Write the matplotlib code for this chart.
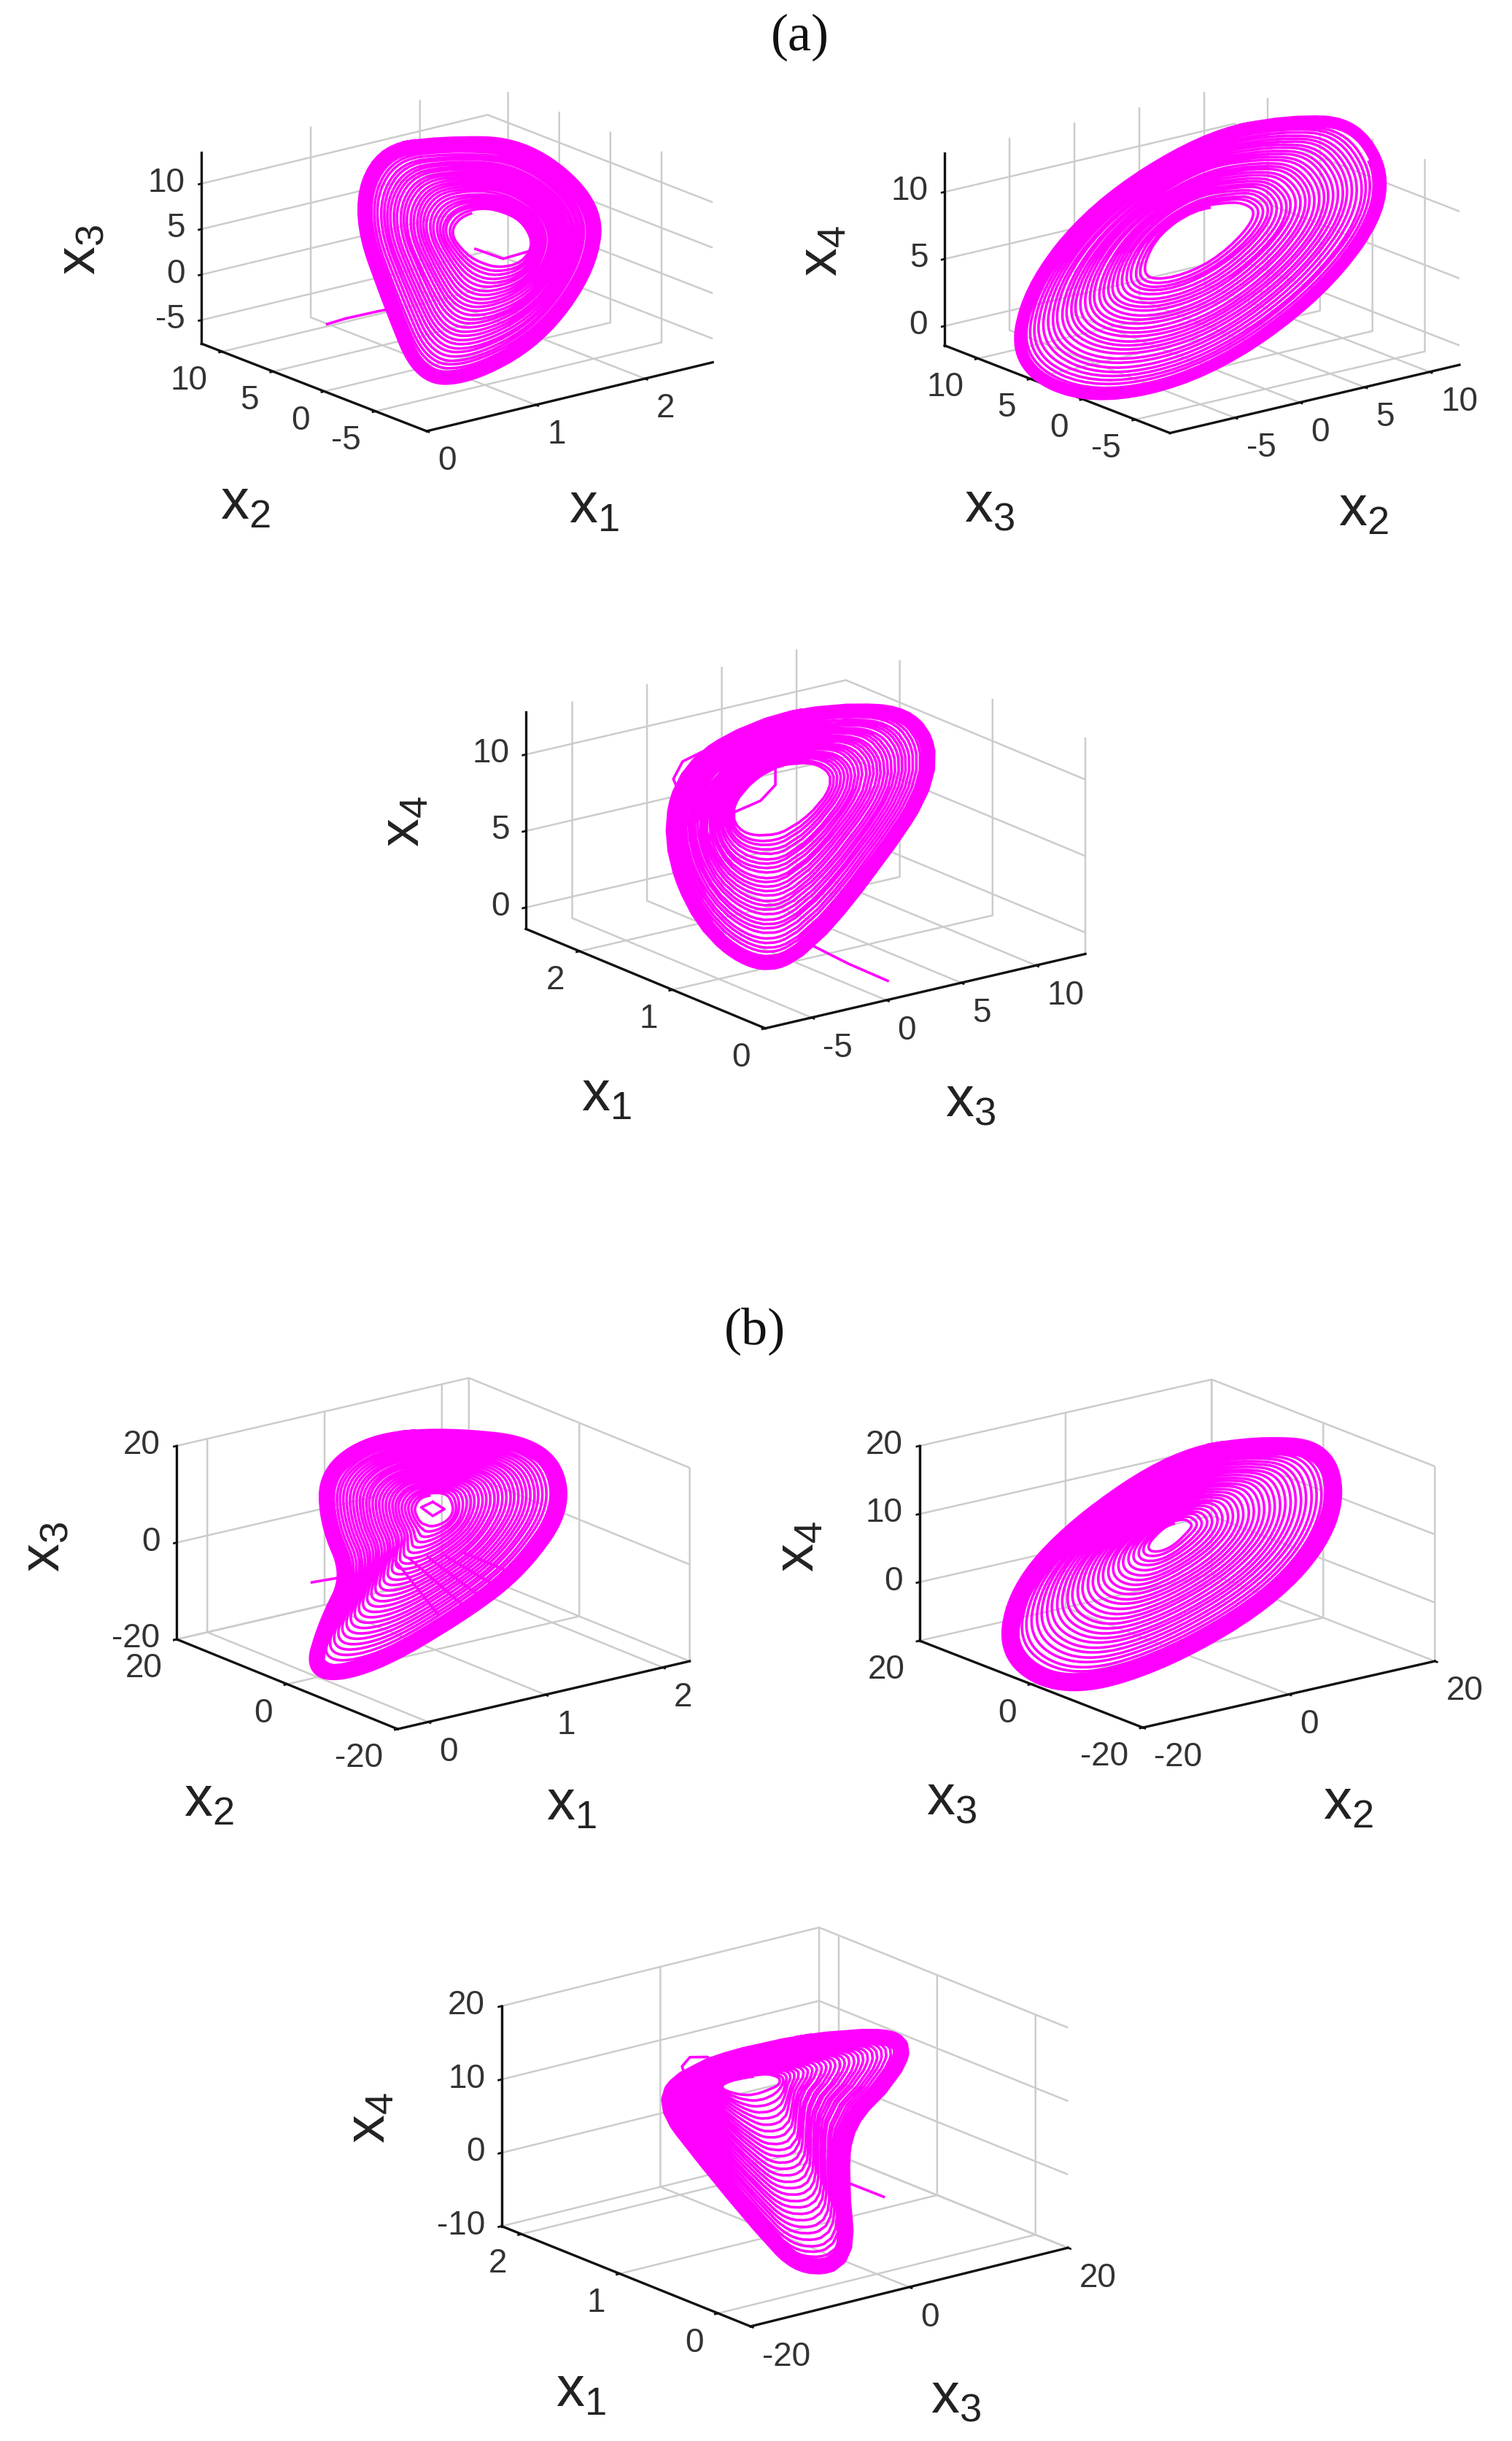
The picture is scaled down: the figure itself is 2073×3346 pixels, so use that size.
import numpy as np
import matplotlib
matplotlib.use("Agg")
import matplotlib.pyplot as plt
from matplotlib.path import Path

plt.rcParams['font.family'] = ['Liberation Sans', 'DejaVu Sans']
plt.rcParams['axes.unicode_minus'] = False
plt.rcParams['mathtext.fontset'] = 'custom'
plt.rcParams['mathtext.rm'] = 'Liberation Sans'
plt.rcParams['mathtext.default'] = 'rm'

W, H = 2073, 3346
MAGENTA = '#ff00ff'
GRID = '#cccccc'

# Spiral turns, one row per turn, inner to outer.
# Depth along the first axis cannot be read from a flat picture, so it is held fixed per panel.

# (a) x1 x2 x3
a1_x2 = [
    [-1.6,.7,1.6,0,-1.4,-3.2,-5.5,-6.6,-5.5,-3.6],
    [-1.4,1,1.9,.2,-1.2,-3.1,-5.6,-6.8,-5.8,-3.7],
    [-1.3,1.3,2.3,.5,-1,-3,-5.6,-7,-6,-3.8],
    [-1.1,1.5,2.6,.8,-.8,-2.9,-5.7,-7.2,-6.3,-3.9],
    [-1,1.8,2.9,1.1,-.5,-2.8,-5.8,-7.4,-6.6,-3.9],
    [-.9,2.1,3.2,1.3,-.3,-2.6,-5.8,-7.6,-6.8,-4],
    [-.7,2.4,3.6,1.6,-.1,-2.5,-5.9,-7.8,-7.1,-4.1],
    [-.6,2.7,3.9,1.9,.1,-2.4,-5.9,-8,-7.4,-4.1],
    [-.4,3,4.3,2.2,.3,-2.3,-6,-8.3,-7.7,-4.2],
    [-.3,3.3,4.6,2.4,.6,-2.2,-6,-8.5,-8,-4.3],
    [-.1,3.6,4.9,2.7,.8,-2.1,-6.1,-8.7,-8.2,-4.4],
    [.1,3.9,5.2,3,1,-2,-6.2,-8.9,-8.5,-4.5],
    [.2,4.1,5.6,3.2,1.2,-1.9,-6.3,-9.1,-8.7,-4.6],
    [.4,4.4,5.9,3.5,1.4,-1.8,-6.3,-9.3,-9,-4.6],
    [.5,4.7,6.3,3.8,1.6,-1.6,-6.4,-9.5,-9.3,-4.7],
    [.7,5,6.6,4,1.9,-1.5,-6.4,-9.7,-9.5,-4.8],
    [.8,5.3,6.9,4.3,2.1,-1.4,-6.5,-9.9,-9.8,-4.9],
    [1,5.6,7.3,4.6,2.3,-1.3,-6.5,-10.1,-10.1,-4.9],
    [1.1,5.9,7.6,4.9,2.5,-1.2,-6.6,-10.3,-10.4,-5],
    [1.3,6.1,8,5.1,2.7,-1.1,-6.7,-10.5,-10.6,-5.1],
    [1.4,6.4,8.3,5.4,2.9,-1,-6.8,-10.7,-10.9,-5.2],
    [1.6,6.7,8.6,5.6,3.2,-.8,-6.8,-10.9,-11.1,-5.3],
    [1.7,7,8.9,5.9,3.4,-.7,-6.9,-11.1,-11.4,-5.4],
    [1.9,7.3,9.3,6.2,3.6,-.6,-6.9,-11.3,-11.7,-5.4],
    [2,7.6,9.6,6.5,3.8,-.5,-7,-11.6,-12,-5.5],
    [2.2,7.9,9.9,6.7,4,-.4,-7,-11.7,-12.2,-5.6],
    [2.3,8.1,10.2,6.9,4.2,-.3,-7.1,-11.9,-12.4,-5.7],
    [2.5,8.5,10.6,7.3,4.5,-.2,-7.2,-12.2,-12.8,-5.8],
]
a1_x3 = [
    [9.3,7.5,5.2,3.7,3.4,3.6,5.2,7.8,9.7,10],
    [9.5,7.6,5.1,3.3,2.8,3.1,4.9,7.8,9.9,10.3],
    [9.7,7.8,5.1,3,2.3,2.6,4.6,7.8,10.1,10.6],
    [9.9,7.9,5,2.7,1.7,2.1,4.3,7.8,10.3,10.9],
    [10.1,8.1,5,2.4,1.2,1.6,4.1,7.8,10.5,11.2],
    [10.3,8.2,4.9,2,.6,1.1,3.8,7.8,10.6,11.5],
    [10.5,8.3,4.8,1.7,0,.6,3.5,7.8,10.8,11.8],
    [10.7,8.5,4.8,1.3,-.5,.1,3.2,7.8,11,12.1],
    [11,8.6,4.7,1,-1.1,-.4,3,7.8,11.2,12.5],
    [11.2,8.8,4.6,.6,-1.6,-.9,2.7,7.8,11.4,12.8],
    [11.4,8.9,4.6,.3,-2.2,-1.3,2.4,7.8,11.6,13.1],
    [11.6,9,4.5,0,-2.7,-1.8,2.1,7.8,11.8,13.4],
    [11.8,9.2,4.4,-.3,-3.3,-2.3,1.8,7.8,12,13.7],
    [12,9.3,4.4,-.6,-3.9,-2.8,1.5,7.8,12.1,14],
    [12.2,9.5,4.3,-1,-4.4,-3.3,1.3,7.8,12.3,14.3],
    [12.4,9.6,4.3,-1.3,-5,-3.8,1,7.8,12.5,14.6],
    [12.6,9.7,4.2,-1.7,-5.6,-4.3,.7,7.7,12.7,14.9],
    [12.8,9.9,4.1,-2,-6.1,-4.8,.4,7.7,12.9,15.2],
    [13,10,4.1,-2.3,-6.7,-5.3,.2,7.7,13.1,15.5],
    [13.2,10.2,4,-2.7,-7.2,-5.8,-.1,7.7,13.3,15.8],
    [13.4,10.3,3.9,-3,-7.8,-6.3,-.4,7.7,13.5,16.2],
    [13.6,10.5,3.9,-3.4,-8.3,-6.8,-.6,7.7,13.7,16.5],
    [13.8,10.6,3.8,-3.7,-8.9,-7.3,-.9,7.7,13.9,16.8],
    [14,10.8,3.8,-4,-9.5,-7.8,-1.2,7.7,14,17.1],
    [14.3,10.9,3.7,-4.4,-10,-8.2,-1.5,7.7,14.2,17.4],
    [14.4,11,3.6,-4.7,-10.5,-8.7,-1.8,7.7,14.4,17.7],
    [14.6,11.1,3.6,-5,-11,-9.1,-2,7.7,14.6,17.9],
    [14.9,11.3,3.5,-5.4,-11.8,-9.8,-2.4,7.7,14.8,18.4],
]
a1_tail = [([13.6,11.8,8.6,6.8], [-9.9,-8.5,-6.3,-5.1]),
           ([-.9,-3.6,-6.6], [4.7,4.8,7.1])]

# (a) x2 x3 x4
a2_x3 = [
    [0,3.1,6.3,7.8,7.6,4.9,1.3,-1.8,-2.9,-1.8],
    [-.2,3.1,6.5,8.2,8.1,5.2,1.3,-2.1,-3.4,-2.2],
    [-.4,3,6.8,8.6,8.5,5.5,1.3,-2.4,-3.9,-2.6],
    [-.7,3,7,9.1,9,5.8,1.4,-2.7,-4.4,-3],
    [-.9,3,7.2,9.5,9.4,6.1,1.4,-2.9,-4.8,-3.4],
    [-1.1,3,7.5,9.9,9.9,6.4,1.4,-3.2,-5.3,-3.8],
    [-1.3,2.9,7.7,10.3,10.4,6.7,1.4,-3.5,-5.8,-4.2],
    [-1.6,2.9,8,10.7,10.9,7,1.4,-3.8,-6.3,-4.6],
    [-1.8,2.9,8.2,11.1,11.3,7.3,1.4,-4,-6.7,-5],
    [-2,2.8,8.4,11.5,11.8,7.6,1.5,-4.3,-7.2,-5.5],
    [-2.2,2.8,8.6,11.9,12.2,7.9,1.5,-4.6,-7.7,-5.9],
    [-2.4,2.8,8.9,12.4,12.7,8.2,1.5,-4.9,-8.2,-6.3],
    [-2.6,2.7,9.1,12.8,13.1,8.5,1.5,-5.2,-8.6,-6.7],
    [-2.9,2.7,9.4,13.2,13.6,8.8,1.5,-5.5,-9.1,-7.1],
    [-3.1,2.7,9.6,13.6,14.1,9.1,1.5,-5.7,-9.6,-7.5],
    [-3.3,2.7,9.8,14,14.6,9.4,1.6,-6,-10.1,-7.9],
    [-3.5,2.6,10,14.4,15,9.7,1.6,-6.3,-10.5,-8.3],
    [-3.8,2.6,10.3,14.8,15.5,10,1.6,-6.6,-11,-8.7],
    [-4,2.5,10.5,15.2,15.9,10.3,1.6,-6.8,-11.5,-9.1],
    [-4.2,2.5,10.8,15.7,16.4,10.6,1.7,-7.1,-12,-9.5],
    [-4.4,2.5,11,16.1,16.8,10.9,1.7,-7.4,-12.4,-9.9],
    [-4.7,2.5,11.3,16.5,17.3,11.2,1.7,-7.7,-12.9,-10.3],
    [-4.9,2.4,11.5,16.9,17.8,11.4,1.7,-8,-13.4,-10.7],
    [-5.1,2.4,11.7,17.3,18.3,11.7,1.7,-8.3,-13.9,-11.1],
    [-5.3,2.3,11.9,17.7,18.7,12,1.7,-8.5,-14.3,-11.5],
    [-5.5,2.3,12.1,18.1,19.1,12.3,1.8,-8.8,-14.7,-11.9],
    [-5.7,2.3,12.3,18.4,19.5,12.6,1.8,-9,-15.1,-12.2],
    [-6,2.2,12.7,19,20.1,13,1.8,-9.4,-15.8,-12.8],
]
a2_x4 = [
    [10.5,9.2,6.5,3.9,2.7,3.6,5.9,9,10.9,11.2],
    [10.8,9.4,6.5,3.7,2.3,3.1,5.6,8.9,11.1,11.6],
    [11.1,9.6,6.5,3.5,1.9,2.7,5.3,8.8,11.3,11.9],
    [11.4,9.8,6.5,3.3,1.6,2.3,5,8.8,11.5,12.3],
    [11.7,10,6.5,3.1,1.2,1.9,4.6,8.7,11.7,12.6],
    [12,10.3,6.5,2.9,.8,1.4,4.3,8.6,11.8,13],
    [12.3,10.5,6.5,2.7,.4,1,4,8.5,12,13.3],
    [12.6,10.7,6.5,2.4,0,.6,3.7,8.4,12.2,13.6],
    [12.9,10.9,6.5,2.2,-.3,.2,3.4,8.4,12.4,13.9],
    [13.2,11.1,6.5,2,-.7,-.3,3,8.3,12.6,14.3],
    [13.5,11.3,6.5,1.8,-1.1,-.7,2.7,8.2,12.8,14.6],
    [13.8,11.5,6.5,1.6,-1.5,-1.1,2.4,8.1,13,15],
    [14.1,11.7,6.5,1.4,-1.8,-1.6,2.1,8.1,13.2,15.3],
    [14.4,11.9,6.5,1.2,-2.2,-2,1.7,8,13.3,15.6],
    [14.7,12.1,6.5,1,-2.6,-2.4,1.4,7.9,13.5,16],
    [15,12.4,6.5,.8,-3,-2.9,1.1,7.8,13.7,16.3],
    [15.3,12.6,6.5,.6,-3.3,-3.3,.8,7.8,13.9,16.7],
    [15.6,12.8,6.5,.4,-3.7,-3.7,.5,7.7,14.1,17],
    [15.9,13,6.5,.2,-4.1,-4.1,.2,7.6,14.3,17.4],
    [16.2,13.2,6.5,0,-4.5,-4.6,-.2,7.5,14.5,17.7],
    [16.5,13.4,6.5,-.2,-4.9,-5,-.5,7.5,14.7,18.1],
    [16.8,13.6,6.5,-.4,-5.2,-5.5,-.8,7.4,14.9,18.4],
    [17.1,13.8,6.5,-.6,-5.6,-5.9,-1.1,7.3,15.1,18.7],
    [17.4,14,6.5,-.8,-6,-6.3,-1.4,7.2,15.2,19.1],
    [17.7,14.2,6.5,-1,-6.4,-6.7,-1.7,7.2,15.4,19.4],
    [18,14.4,6.5,-1.2,-6.7,-7.1,-2,7.1,15.6,19.7],
    [18.2,14.6,6.5,-1.4,-7,-7.5,-2.3,7,15.8,20],
    [18.7,14.9,6.5,-1.7,-7.6,-8.1,-2.7,6.9,16,20.5],
]
a2_tail = []

# (a) x3 x1 x4
a3_x1 = [
    [1.47,1.74,2.05,2.16,2.05,1.79,1.52,1.18,1.05,1.21],
    [1.45,1.75,2.07,2.18,2.06,1.79,1.51,1.16,1.01,1.17],
    [1.44,1.75,2.09,2.21,2.08,1.80,1.51,1.14,.97,1.13],
    [1.42,1.76,2.12,2.23,2.10,1.80,1.50,1.12,.93,1.09],
    [1.40,1.76,2.14,2.26,2.12,1.80,1.50,1.10,.89,1.05],
    [1.38,1.77,2.16,2.29,2.13,1.81,1.49,1.07,.85,1.01],
    [1.37,1.77,2.18,2.31,2.15,1.81,1.49,1.05,.81,.98],
    [1.35,1.78,2.20,2.34,2.17,1.82,1.48,1.03,.77,.94],
    [1.34,1.78,2.23,2.36,2.18,1.82,1.48,1.01,.73,.90],
    [1.32,1.79,2.25,2.39,2.20,1.82,1.47,.99,.69,.86],
    [1.31,1.79,2.27,2.42,2.21,1.83,1.47,.97,.64,.82],
    [1.29,1.80,2.29,2.44,2.23,1.83,1.46,.95,.60,.78],
    [1.27,1.80,2.31,2.47,2.25,1.83,1.46,.93,.56,.74],
    [1.25,1.81,2.34,2.49,2.26,1.84,1.45,.91,.52,.70],
    [1.24,1.81,2.36,2.52,2.28,1.84,1.45,.89,.48,.67],
    [1.22,1.82,2.38,2.54,2.30,1.84,1.44,.86,.44,.63],
    [1.21,1.82,2.40,2.57,2.31,1.85,1.44,.84,.40,.59],
    [1.19,1.83,2.43,2.60,2.33,1.85,1.43,.82,.36,.55],
    [1.17,1.83,2.45,2.62,2.35,1.85,1.43,.80,.32,.51],
    [1.15,1.84,2.47,2.65,2.36,1.86,1.42,.78,.28,.47],
    [1.14,1.85,2.49,2.67,2.38,1.86,1.42,.76,.24,.43],
    [1.12,1.85,2.52,2.70,2.40,1.86,1.41,.74,.20,.40],
    [1.11,1.86,2.54,2.72,2.41,1.87,1.40,.72,.16,.36],
    [1.09,1.86,2.56,2.75,2.43,1.87,1.40,.70,.12,.32],
    [1.08,1.87,2.58,2.77,2.44,1.87,1.39,.68,.08,.28],
    [1.06,1.87,2.60,2.80,2.46,1.87,1.39,.66,.04,.24],
    [1.05,1.88,2.62,2.82,2.47,1.88,1.39,.64,.01,.21],
    [1.02,1.88,2.65,2.85,2.50,1.89,1.38,.61,-.05,.15],
]
a3_x4 = [
    [9.7,8.7,6.4,4.6,3.7,4.1,5.2,7.8,9.8,10.3],
    [9.8,8.7,6.4,4.4,3.4,3.7,4.9,7.7,9.9,10.5],
    [10,8.8,6.4,4.3,3.2,3.4,4.6,7.6,10,10.8],
    [10.2,8.9,6.4,4.2,2.9,3.1,4.3,7.5,10.1,11],
    [10.3,9,6.4,4.1,2.7,2.8,4,7.4,10.2,11.2],
    [10.5,9.1,6.4,3.9,2.4,2.4,3.7,7.3,10.3,11.4],
    [10.7,9.2,6.4,3.8,2.1,2.1,3.5,7.2,10.4,11.6],
    [10.8,9.3,6.4,3.7,1.8,1.8,3.2,7.1,10.5,11.9],
    [11,9.4,6.4,3.6,1.6,1.5,2.9,7,10.7,12.1],
    [11.2,9.5,6.4,3.5,1.3,1.1,2.6,6.9,10.8,12.3],
    [11.4,9.6,6.4,3.4,1.1,.8,2.4,6.8,10.9,12.5],
    [11.5,9.7,6.4,3.2,.8,.5,2.1,6.7,11,12.8],
    [11.7,9.8,6.4,3.1,.6,.2,1.8,6.6,11.1,13],
    [11.9,9.9,6.4,3,.3,-.1,1.5,6.5,11.2,13.2],
    [12.1,10,6.4,2.9,.1,-.5,1.2,6.4,11.3,13.4],
    [12.2,10.1,6.4,2.8,-.2,-.8,1,6.3,11.4,13.7],
    [12.4,10.2,6.4,2.7,-.5,-1.1,.7,6.2,11.5,13.9],
    [12.6,10.3,6.4,2.5,-.7,-1.4,.4,6.1,11.6,14.1],
    [12.8,10.4,6.4,2.4,-1,-1.8,.1,6,11.8,14.3],
    [12.9,10.5,6.4,2.3,-1.2,-2.1,-.2,5.9,11.9,14.6],
    [13.1,10.6,6.4,2.2,-1.5,-2.4,-.4,5.8,12,14.8],
    [13.3,10.6,6.4,2,-1.7,-2.7,-.7,5.7,12.1,15],
    [13.5,10.7,6.4,1.9,-2,-3.1,-1,5.6,12.2,15.2],
    [13.6,10.8,6.4,1.8,-2.2,-3.4,-1.3,5.5,12.3,15.5],
    [13.8,10.9,6.4,1.7,-2.5,-3.7,-1.6,5.4,12.4,15.7],
    [14,11,6.4,1.6,-2.7,-4,-1.8,5.3,12.5,15.9],
    [14.1,11.1,6.4,1.5,-3,-4.3,-2.1,5.3,12.6,16],
    [14.4,11.2,6.5,1.3,-3.4,-4.8,-2.5,5.1,12.8,16.3],
]
a3_tail = [([1.26,.89,.47], [-1.75,-1.95,-2.0]),
           ([2.47,2.68,2.78,2.72], [7.93,6.77,5.37,4.7]),
           ([1.68,1.68,1.84,2.16], [8.9,7.76,6.32,4.67])]

# (b) x1 x2 x3
b1_x2 = [
    [-.4,2.5,3.8,3.4,2.5,1.7,.8,-.8,-2.5,-3.4,-2.9,-2.1],
    [-.5,2.8,4.4,4,3,2.4,1.6,-.4,-2.6,-3.9,-3.7,-2.8],
    [-.5,3.2,5,4.6,3.4,3,2.4,.1,-2.7,-4.3,-4.4,-3.4],
    [-.6,3.5,5.6,5.2,3.9,3.7,3.2,.6,-2.8,-4.8,-5.2,-4.1],
    [-.6,3.9,6.2,5.8,4.4,4.3,4,1,-2.9,-5.2,-6,-4.7],
    [-.7,4.2,6.8,6.4,4.9,5,4.8,1.5,-3,-5.7,-6.8,-5.4],
    [-.8,4.5,7.3,7,5.3,5.7,5.6,1.9,-3.1,-6.1,-7.5,-6],
    [-.8,4.9,7.9,7.5,5.8,6.3,6.4,2.4,-3.2,-6.6,-8.3,-6.7],
    [-.9,5.2,8.5,8.1,6.3,7,7.2,2.8,-3.3,-7,-9.1,-7.3],
    [-.9,5.6,9.1,8.7,6.7,7.6,8,3.3,-3.4,-7.5,-9.8,-8],
    [-1,5.9,9.7,9.3,7.2,8.3,8.8,3.7,-3.5,-7.9,-10.6,-8.6],
    [-1.1,6.2,10.3,9.9,7.7,9,9.6,4.2,-3.6,-8.4,-11.4,-9.3],
    [-1.1,6.6,10.9,10.5,8.1,9.6,10.4,4.6,-3.7,-8.8,-12.1,-9.9],
    [-1.2,6.9,11.5,11.1,8.6,10.3,11.2,5.1,-3.8,-9.3,-12.9,-10.6],
    [-1.2,7.3,12.1,11.7,9.1,10.9,12,5.5,-3.9,-9.7,-13.7,-11.2],
    [-1.3,7.6,12.6,12.3,9.6,11.6,12.8,6,-4,-10.2,-14.5,-11.9],
    [-1.4,7.9,13.2,12.9,10,12.3,13.6,6.4,-4.1,-10.6,-15.2,-12.5],
    [-1.4,8.3,13.8,13.4,10.5,12.9,14.4,6.9,-4.2,-11.1,-16,-13.2],
    [-1.5,8.6,14.4,14,11,13.6,15.2,7.3,-4.3,-11.5,-16.8,-13.8],
    [-1.5,9,15,14.6,11.4,14.2,16,7.8,-4.4,-12,-17.5,-14.5],
    [-1.6,9.3,15.6,15.2,11.9,14.9,16.8,8.2,-4.5,-12.4,-18.3,-15.1],
    [-1.7,9.6,16.2,15.8,12.4,15.6,17.6,8.7,-4.6,-12.9,-19.1,-15.8],
    [-1.7,10,16.8,16.4,12.8,16.2,18.4,9.1,-4.7,-13.3,-19.8,-16.4],
    [-1.8,10.3,17.4,17,13.3,16.9,19.2,9.6,-4.8,-13.8,-20.6,-17.1],
    [-1.8,10.7,17.9,17.6,13.8,17.5,20,10,-4.9,-14.2,-21.4,-17.7],
    [-1.9,11,18.5,18.2,14.3,18.2,20.8,10.5,-5,-14.7,-22.2,-18.4],
    [-1.9,11.3,19.1,18.8,14.7,18.9,21.6,10.9,-5.1,-15.1,-22.9,-19],
    [-2,11.7,19.8,19.4,15.3,19.7,22.5,11.6,-5.3,-15.8,-23.9,-19.7],
]
b1_x3 = [
    [12.3,10.5,7.7,6.1,5,5.1,5.1,6.2,8.1,10.4,12.4,13.1],
    [12.8,10.8,7.7,5.8,4.4,4,3.6,4.9,7.4,10.2,12.7,13.8],
    [13.3,11,7.7,5.4,3.8,3,2.1,3.6,6.8,10,13.1,14.5],
    [13.7,11.3,7.6,5.1,3.1,1.9,.6,2.3,6.1,9.7,13.4,15.1],
    [14.2,11.6,7.6,4.7,2.5,.9,-.9,1,5.5,9.5,13.8,15.8],
    [14.7,11.9,7.6,4.4,1.9,-.2,-2.4,-.3,4.8,9.3,14.1,16.5],
    [15.2,12.1,7.6,4.1,1.3,-1.3,-3.9,-1.6,4.1,9.1,14.4,17.2],
    [15.7,12.4,7.6,3.7,.7,-2.3,-5.4,-2.9,3.5,8.9,14.8,17.9],
    [16.1,12.7,7.5,3.4,0,-3.4,-6.9,-4.2,2.8,8.6,15.1,18.5],
    [16.6,12.9,7.5,3,-.6,-4.4,-8.4,-5.5,2.2,8.4,15.5,19.2],
    [17.1,13.2,7.5,2.7,-1.2,-5.5,-9.9,-6.8,1.5,8.2,15.8,19.9],
    [17.6,13.5,7.5,2.4,-1.8,-6.6,-11.4,-8.1,.8,8,16.1,20.6],
    [18.1,13.7,7.5,2,-2.4,-7.6,-12.9,-9.4,.2,7.8,16.5,21.3],
    [18.5,14,7.4,1.7,-3.1,-8.7,-14.4,-10.7,-.5,7.5,16.8,21.9],
    [19,14.3,7.4,1.3,-3.7,-9.7,-15.9,-12,-1.1,7.3,17.2,22.6],
    [19.5,14.6,7.4,1,-4.3,-10.8,-17.4,-13.3,-1.8,7.1,17.5,23.3],
    [20,14.8,7.4,.7,-4.9,-11.9,-18.9,-14.6,-2.5,6.9,17.8,24],
    [20.5,15.1,7.4,.3,-5.5,-12.9,-20.4,-15.9,-3.1,6.7,18.2,24.7],
    [20.9,15.4,7.3,0,-6.2,-14,-21.9,-17.2,-3.8,6.4,18.5,25.3],
    [21.4,15.6,7.3,-.4,-6.8,-15,-23.4,-18.5,-4.4,6.2,18.9,26],
    [21.9,15.9,7.3,-.7,-7.4,-16.1,-24.9,-19.8,-5.1,6,19.2,26.7],
    [22.4,16.2,7.3,-1,-8,-17.2,-26.4,-21.1,-5.8,5.8,19.5,27.4],
    [22.9,16.4,7.3,-1.4,-8.6,-18.2,-27.9,-22.4,-6.4,5.6,19.9,28.1],
    [23.3,16.7,7.2,-1.7,-9.3,-19.3,-29.4,-23.7,-7.1,5.3,20.2,28.7],
    [23.8,17,7.2,-2.1,-9.9,-20.3,-30.9,-25,-7.7,5.1,20.6,29.4],
    [24.3,17.3,7.2,-2.4,-10.5,-21.4,-32.4,-26.3,-8.4,4.9,20.9,30.1],
    [24.8,17.5,7.2,-2.7,-11.1,-22.5,-33.9,-27.6,-9.1,4.7,21.2,30.8],
    [25.4,17.7,7.2,-3.1,-11.8,-23.6,-35.8,-29,-9.8,4.3,21.5,31.4],
]
b1_tail = [([22.3,16.4], [-16.4,-12.5]),
           ([7.2,-.4], [-4.9,-12.3]),
           ([4.6,-4.6], [-3.3,-8.2]),
           ([1.3,-7.2], [-1.4,-4.8]),
           ([-2.1,-9.7], [.2,-1.4]),
           ([-5.5,-13.1], [2.5,2.4]),
           ([.4,2.5,.4,-1.7,.4], [10.4,8.3,7.5,9.9,10.4])]

# (b) x2 x3 x4
b2_x3 = [
    [2,4.5,6.6,7.9,7.5,5.4,3.2,1.1,-.2,.7],
    [1.5,4.5,7.1,8.8,8.5,6,3.3,.5,-1.2,-.2],
    [1,4.4,7.6,9.6,9.4,6.6,3.3,-.2,-2.1,-1.1],
    [.5,4.4,8.2,10.5,10.4,7.3,3.4,-.8,-3.1,-2.1],
    [0,4.3,8.7,11.4,11.3,7.9,3.4,-1.4,-4,-3],
    [-.5,4.2,9.2,12.3,12.3,8.5,3.5,-2.1,-5,-3.9],
    [-1,4.1,9.7,13.1,13.2,9.1,3.5,-2.7,-5.9,-4.8],
    [-1.6,4.1,10.3,14,14.2,9.8,3.6,-3.3,-6.9,-5.8],
    [-2.1,4,10.8,14.8,15.1,10.4,3.6,-3.9,-7.8,-6.7],
    [-2.6,4,11.3,15.7,16.1,11,3.7,-4.6,-8.8,-7.6],
    [-3.1,3.9,11.8,16.5,17,11.6,3.7,-5.2,-9.7,-8.5],
    [-3.6,3.9,12.4,17.4,18,12.3,3.7,-5.8,-10.7,-9.5],
    [-4.1,3.8,12.9,18.3,18.9,12.9,3.7,-6.4,-11.6,-10.4],
    [-4.6,3.8,13.4,19.2,19.9,13.5,3.8,-7.1,-12.6,-11.3],
    [-5.1,3.7,13.9,20,20.8,14.1,3.8,-7.7,-13.5,-12.2],
    [-5.6,3.6,14.4,20.9,21.8,14.8,3.9,-8.3,-14.5,-13.2],
    [-6.1,3.5,14.9,21.7,22.7,15.4,3.9,-8.9,-15.4,-14.1],
    [-6.6,3.5,15.5,22.6,23.7,16,4,-9.6,-16.4,-15],
    [-7.1,3.4,16,23.5,24.6,16.6,4,-10.2,-17.3,-16],
    [-7.7,3.4,16.5,24.4,25.6,17.3,4.1,-10.8,-18.3,-16.9],
    [-8.2,3.3,17,25.2,26.5,17.9,4.1,-11.4,-19.2,-17.8],
    [-8.7,3.3,17.6,26.1,27.5,18.5,4.2,-12.1,-20.2,-18.7],
    [-9.2,3.2,18.1,26.9,28.4,19.1,4.2,-12.7,-21.1,-19.6],
    [-9.7,3.2,18.6,27.8,29.4,19.8,4.3,-13.3,-22.1,-20.6],
    [-10.2,3.1,19.1,28.6,30.4,20.4,4.3,-13.9,-23,-21.5],
    [-10.7,3.1,19.6,29.4,31.2,20.9,4.4,-14.5,-23.9,-22.3],
    [-11.1,3,20,30.1,32,21.4,4.4,-15,-24.7,-23.1],
    [-11.8,2.9,20.8,31.4,33.3,22.3,4.4,-15.9,-26,-24.4],
]
b2_x4 = [
    [9.2,7.9,5.7,3.9,3.1,3.8,5.4,7.7,9.4,9.8],
    [9.8,8.3,5.6,3.4,2.2,2.9,4.8,7.6,9.8,10.5],
    [10.4,8.7,5.5,2.9,1.3,1.9,4.1,7.5,10.1,11.2],
    [11,9.1,5.4,2.4,.5,1,3.5,7.4,10.5,11.8],
    [11.5,9.4,5.3,1.8,-.4,0,2.9,7.2,10.8,12.5],
    [12.1,9.8,5.2,1.3,-1.3,-1,2.2,7.1,11.2,13.2],
    [12.7,10.2,5,.8,-2.2,-1.9,1.6,7,11.5,13.9],
    [13.3,10.6,4.9,.3,-3,-2.9,1,6.9,11.9,14.6],
    [13.8,11,4.8,-.3,-3.9,-3.8,.3,6.8,12.2,15.3],
    [14.4,11.4,4.7,-.8,-4.8,-4.7,-.4,6.6,12.6,15.9],
    [15,11.7,4.6,-1.3,-5.7,-5.7,-1,6.5,12.9,16.6],
    [15.6,12.1,4.5,-1.9,-6.5,-6.6,-1.6,6.4,13.3,17.3],
    [16.2,12.5,4.4,-2.4,-7.4,-7.6,-2.2,6.3,13.6,18],
    [16.8,12.9,4.2,-2.9,-8.3,-8.6,-2.9,6.2,14,18.7],
    [17.3,13.2,4.1,-3.4,-9.2,-9.5,-3.5,6.1,14.3,19.4],
    [17.9,13.6,4,-3.9,-10.1,-10.5,-4.1,6,14.7,20],
    [18.5,14,3.9,-4.4,-11,-11.4,-4.8,5.9,15,20.7],
    [19.1,14.4,3.8,-5,-11.8,-12.4,-5.4,5.7,15.4,21.4],
    [19.7,14.8,3.7,-5.5,-12.7,-13.3,-6.1,5.6,15.8,22.1],
    [20.2,15.1,3.6,-6,-13.6,-14.2,-6.7,5.5,16.1,22.8],
    [20.8,15.5,3.5,-6.5,-14.5,-15.2,-7.3,5.4,16.5,23.5],
    [21.4,15.9,3.4,-7.1,-15.3,-16.1,-8,5.3,16.8,24.1],
    [22,16.3,3.2,-7.6,-16.2,-17.1,-8.6,5.2,17.2,24.8],
    [22.6,16.7,3.1,-8.1,-17.1,-18,-9.3,5,17.5,25.5],
    [23.1,17.1,3,-8.6,-18,-19,-9.9,4.9,17.9,26.2],
    [23.6,17.4,2.9,-9.1,-18.7,-19.8,-10.5,4.8,18.2,26.8],
    [24.1,17.7,2.8,-9.5,-19.5,-20.6,-11,4.7,18.5,27.4],
    [25,18.3,2.7,-10.3,-20.7,-21.9,-11.9,4.6,19,28.3],
]
b2_tail = []

# (b) x3 x1 x4
b3_x1 = [
    [1.16,1.36,1.54,1.59,1.49,1.34,1.21,1.08,1,.98,1,1.05],
    [1.13,1.35,1.55,1.61,1.50,1.33,1.19,1.05,.98,.95,.95,1],
    [1.10,1.35,1.57,1.63,1.51,1.33,1.18,1.02,.95,.93,.91,.95],
    [1.06,1.34,1.58,1.65,1.52,1.32,1.16,.99,.93,.91,.87,.90],
    [1.03,1.33,1.59,1.68,1.53,1.31,1.15,.96,.91,.88,.83,.85],
    [1,1.32,1.61,1.70,1.54,1.31,1.13,.93,.89,.86,.79,.80],
    [.97,1.32,1.62,1.72,1.55,1.30,1.11,.90,.86,.84,.74,.75],
    [.94,1.31,1.63,1.75,1.56,1.30,1.10,.87,.84,.81,.70,.70],
    [.90,1.30,1.65,1.77,1.57,1.29,1.08,.84,.82,.79,.66,.65],
    [.87,1.29,1.66,1.79,1.58,1.28,1.06,.81,.79,.77,.62,.60],
    [.84,1.29,1.67,1.81,1.59,1.28,1.05,.79,.77,.74,.57,.55],
    [.81,1.28,1.69,1.84,1.60,1.27,1.03,.76,.75,.72,.53,.50],
    [.77,1.28,1.70,1.86,1.61,1.26,1.02,.73,.72,.69,.49,.45],
    [.74,1.27,1.71,1.88,1.62,1.26,1,.70,.70,.67,.45,.40],
    [.71,1.26,1.73,1.90,1.63,1.25,.98,.67,.68,.64,.40,.35],
    [.68,1.25,1.74,1.93,1.64,1.24,.97,.64,.65,.62,.36,.30],
    [.64,1.25,1.75,1.95,1.65,1.24,.95,.61,.63,.59,.32,.25],
    [.61,1.24,1.77,1.97,1.66,1.23,.93,.58,.61,.57,.27,.20],
    [.58,1.23,1.78,1.99,1.67,1.23,.92,.55,.58,.55,.23,.15],
    [.55,1.23,1.79,2.02,1.68,1.22,.90,.52,.56,.52,.19,.10],
    [.52,1.22,1.81,2.04,1.69,1.21,.89,.49,.54,.50,.15,.05],
    [.48,1.21,1.82,2.06,1.70,1.21,.87,.46,.51,.47,.10,0],
    [.45,1.21,1.83,2.08,1.71,1.20,.86,.43,.49,.45,.06,-.05],
    [.42,1.20,1.85,2.11,1.72,1.19,.84,.40,.47,.42,.02,-.10],
    [.39,1.19,1.86,2.13,1.73,1.19,.82,.37,.45,.40,-.02,-.15],
    [.36,1.19,1.87,2.15,1.74,1.18,.81,.35,.43,.38,-.06,-.20],
    [.33,1.18,1.88,2.17,1.74,1.18,.80,.32,.41,.36,-.10,-.24],
    [.29,1.17,1.90,2.20,1.76,1.17,.77,.28,.37,.32,-.16,-.31],
]
b3_x4 = [
    [10.8,9.4,7.8,6.8,6.7,7.1,8,9.4,10.3,11.1,11.4,11.4],
    [11.2,9.6,7.8,6.6,6.3,6.5,7.2,8.7,10,11,11.6,11.8],
    [11.5,9.8,7.8,6.4,5.9,5.8,6.4,8,9.6,11,11.9,12.3],
    [11.9,10,7.8,6.2,5.6,5.2,5.6,7.3,9.3,10.9,12.1,12.8],
    [12.3,10.1,7.7,6,5.2,4.6,4.8,6.6,8.9,10.8,12.3,13.2],
    [12.6,10.3,7.7,5.8,4.8,4,4,5.9,8.6,10.7,12.5,13.6],
    [13,10.5,7.7,5.6,4.4,3.3,3.2,5.2,8.2,10.6,12.8,14.1],
    [13.4,10.7,7.7,5.4,4,2.6,2.4,4.5,7.9,10.6,13,14.5],
    [13.8,10.9,7.7,5.3,3.6,2,1.6,3.7,7.5,10.5,13.2,15],
    [14.1,11,7.7,5.1,3.2,1.4,.9,3,7.2,10.4,13.5,15.5],
    [14.5,11.2,7.7,4.9,2.9,.8,.1,2.3,6.8,10.3,13.7,16],
    [14.9,11.4,7.6,4.7,2.5,.2,-.7,1.6,6.4,10.3,14,16.4],
    [15.3,11.6,7.6,4.5,2.1,-.5,-1.5,.9,6,10.2,14.2,16.9],
    [15.6,11.8,7.6,4.3,1.8,-1.1,-2.3,.2,5.7,10.1,14.4,17.3],
    [16,12,7.6,4.1,1.4,-1.8,-3.1,-.5,5.4,10,14.6,17.8],
    [16.4,12.1,7.6,3.9,1,-2.4,-3.9,-1.2,5,10,14.9,18.2],
    [16.7,12.3,7.6,3.7,.6,-3,-4.7,-1.9,4.7,9.9,15.1,18.7],
    [17.1,12.5,7.5,3.5,.2,-3.7,-5.5,-2.6,4.3,9.8,15.3,19.2],
    [17.5,12.7,7.5,3.3,-.2,-4.3,-6.3,-3.3,3.9,9.7,15.6,19.6],
    [17.9,12.9,7.5,3.2,-.5,-4.9,-7.1,-4,3.6,9.7,15.8,20.1],
    [18.2,13,7.5,3,-.9,-5.6,-7.9,-4.7,3.2,9.6,16,20.5],
    [18.6,13.2,7.5,2.8,-1.3,-6.2,-8.7,-5.5,2.9,9.5,16.3,21],
    [19,13.4,7.5,2.6,-1.7,-6.8,-9.5,-6.2,2.5,9.4,16.5,21.4],
    [19.4,13.6,7.5,2.4,-2.1,-7.5,-10.3,-6.9,2.2,9.4,16.8,21.9],
    [19.7,13.8,7.5,2.2,-2.5,-8.1,-11.1,-7.6,1.8,9.3,17,22.3],
    [20,14,7.4,2,-2.8,-8.7,-11.8,-8.2,1.5,9.2,17.2,22.7],
    [20.3,14.1,7.4,1.9,-3.1,-9.2,-12.4,-8.8,1.2,9.1,17.3,23.1],
    [20.9,14.3,7.4,1.6,-3.7,-10.1,-13.6,-9.8,.7,9,17.7,23.8],
]
b3_tail = [([.34,-.07], [.85,.9]),
           ([1.62,1.72,1.9,1.98,1.95], [9.5,10.3,9.3,7.6,6.6])]

ticks_0_2 = [0, 1, 2]
ticks_5 = [-5, 0, 5, 10]
ticks_pos5 = [0, 5, 10]
ticks_20 = [-20, 0, 20]


# curve through the turns, flattened by matplotlib's own path code
def smooth(u, v):
    pts = np.column_stack([u, v]) * 20.0
    mids = (pts[:-1] + pts[1:]) / 2
    verts = [mids[0]]
    codes = [Path.MOVETO]
    for c, m in zip(pts[1:-1], mids[1:]):
        verts += [c, m]
        codes += [Path.CURVE3, Path.CURVE3]
    flat = Path(verts, codes).to_polygons(closed_only=False)[0] / 20.0
    return flat[:, 0], flat[:, 1]


def draw_panel(fig, u, v, tails, depth, center, length, ratio, elev, theta,
               xlim, ylim, zlim, xticks, yticks, zticks, labels, label_pos, band):
    norm = np.linalg.norm([1, 1, ratio])
    side = length * norm / (1.8294640721620434 * 25 / 24 * (0.1 / 0.185))
    left = (center[0] - 0.5135 * side) / W
    bottom = (H - center[1] - 0.5135 * side) / H
    ax = fig.add_axes([left, bottom, side / W, side / H], projection='3d', proj_type='ortho')
    ax.set_facecolor('none')
    ax.set_box_aspect((1, 1, ratio))
    ax.view_init(elev=elev, azim=-(90 + theta))
    ax.set_xlim(*xlim, view_margin=0)
    ax.set_ylim(*ylim, view_margin=0)
    ax.set_zlim(*zlim, view_margin=0)
    ax.set_xticks(xticks)
    ax.set_yticks(yticks)
    ax.set_zticks(zticks)
    for axis in (ax.xaxis, ax.yaxis, ax.zaxis):
        axis.set_pane_color((1, 1, 1, 0))
        axis.pane.set_edgecolor(GRID)
        axis.pane.set_linewidth(1.8)
        axis.line.set_color('#111111')
        axis.line.set_linewidth(2.4)
        axis._axinfo['grid'].update(color=GRID, linewidth=1.8)
        axis._axinfo['tick'].update(inward_factor=0.12, outward_factor=0.0)
        axis._axinfo['tick']['linewidth'] = {True: 2, False: 1}
    ax.tick_params(labelsize=33, labelcolor='#333333', color='#111111', pad=6)
    ax.tick_params(axis='z', pad=1)
    for t in ax.xaxis.get_major_ticks():
        t.label1.set_ha('left')
    for t in ax.yaxis.get_major_ticks():
        t.label1.set_ha('right')
    for t in ax.zaxis.get_major_ticks():
        t.label1.set_ha('right')
        t.label1.set_va('center')

    u = np.array(u, dtype=float)
    v = np.array(v, dtype=float)
    su, sv = smooth(u[:-1].ravel(), v[:-1].ravel())
    ax.plot(np.full(su.shape, depth), su, sv, color=MAGENTA, lw=2.6)
    bu, bv = smooth(np.r_[u[-1], u[-1][:2]], np.r_[v[-1], v[-1][:2]])
    ax.plot(np.full(bu.shape, depth), bu, bv, color=MAGENTA, lw=band)
    for tu, tv in tails:
        ax.plot(np.full(len(tu), depth), tu, tv, color=MAGENTA, lw=2.6)

    for text, pos, rot in zip(labels, label_pos, (0, 0, 90)):
        fig.text(pos[0] / W, 1 - pos[1] / H, text, fontsize=56, color='#222222',
                 ha='center', va='center', rotation=rot)
    return ax


fig = plt.figure(figsize=(W / 100, H / 100), dpi=100)

draw_panel(fig, a1_x2, a1_x3, a1_tail, 1.3, (626.75, 353), 499, .551, 17.8, 38.2,
           (0, 2.62), (-10, 12), (-7.6, 13.4), ticks_0_2, ticks_5, ticks_5,
           ('x$_1$', 'x$_2$', 'x$_3$'), ((815, 696), (337, 691), (110, 342)), 14)
draw_panel(fig, a2_x3, a2_x4, a2_tail, 1, (1648, 355), 503, .55, 17.6, 37.9,
           (-10, 12.3), (-8.3, 13.2), (-1.45, 12.9), ticks_5, ticks_5, ticks_pos5,
           ('x$_2$', 'x$_3$', 'x$_4$'), ((1870, 700), (1357, 695), (1127, 344)), 12)
draw_panel(fig, a3_x1, a3_x4, a3_tail, 3, (1104.5, 1142), 548, .57, 18.1, 36.8,
           (-8.1, 13.3), (0, 2.58), (-1.4, 12.76), ticks_5, ticks_0_2, ticks_pos5,
           ('x$_3$', 'x$_1$', 'x$_4$'), ((1331, 1510), (832, 1502), (554, 1126)), 14)
draw_panel(fig, b1_x2, b1_x3, b1_tail, 1, (594, 2129.5), 502, .555, 17.9, 37.1,
           (-.26, 2.23), (-20, 20), (-20, 20), ticks_0_2, ticks_20, ticks_20,
           ('x$_1$', 'x$_2$', 'x$_3$'), ((784, 2474), (287, 2469), (61, 2120)), 16)
draw_panel(fig, b2_x3, b2_x4, b2_tail, 2, (1614, 2129.5), 504, .555, 17.3, 37.4,
           (-20, 20), (-20, 20), (-8.6, 20), ticks_20, ticks_20, [0, 10, 20],
           ('x$_2$', 'x$_3$', 'x$_4$'), ((1849, 2473), (1305, 2467), (1095, 2120)), 18)
draw_panel(fig, b3_x1, b3_x4, b3_tail, 0, (1076, 2915.5), 553, .575, 18.4, 38.1,
           (-20, 20), (-.33, 2.2), (-10, 20), ticks_20, ticks_0_2, [-10, 0, 10, 20],
           ('x$_3$', 'x$_1$', 'x$_4$'), ((1311, 3287), (797, 3278), (507, 2903)), 16)

fig.text(1097 / W, 1 - 51 / H, '(a)', family='Liberation Serif', fontsize=52,
         ha='center', va='center', color='#111111')
fig.text(1035 / W, 1 - 1825 / H, '(b)', family='Liberation Serif', fontsize=52,
         ha='center', va='center', color='#111111')

fig.savefig('out.png', dpi=100)
